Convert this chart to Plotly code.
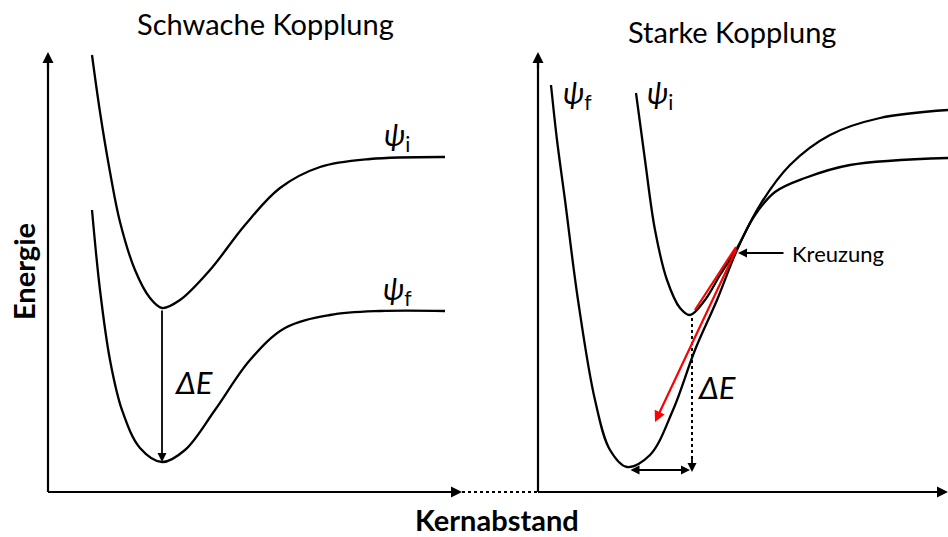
import plotly.graph_objects as go

# Schematic potential curves (x = Kernabstand, y = Energie in drawing units, y grows downward)
left_psi_i_x = [92, 100, 110, 120, 135, 150, 162, 180, 210, 245, 280, 320, 370, 445]
left_psi_i_y = [55, 112, 172, 222, 270, 298, 308, 300, 270, 225, 188, 167, 159, 157]
left_psi_f_x = [92, 100, 110, 122, 140, 162, 185, 215, 250, 285, 330, 380, 445]
left_psi_f_y = [210, 290, 360, 410, 448, 462, 450, 410, 360, 328, 315, 311, 311]

right_psi_f_x = [551, 557, 565, 578, 595, 610, 627, 650, 673, 695, 717, 737, 760, 790, 830, 880, 948]
right_psi_f_y = [85, 140, 200, 300, 400, 450, 467, 455, 410, 350, 300, 250, 205, 165, 135, 118, 110]
right_psi_i_x = [636, 645, 655, 667, 680, 690, 705, 720, 737, 755, 775, 805, 850, 948]
right_psi_i_y = [93, 160, 230, 280, 308, 315, 300, 275, 248, 215, 192, 178, 165, 158]

titles = ["Schwache Kopplung", "Starke Kopplung"]
axis_titles = ["Energie", "Kernabstand"]

FONT = "Lato"
fig = go.Figure()

def curve(x, y, color="black", width=2.3, dash=None, shape="spline"):
    fig.add_trace(go.Scatter(x=x, y=y, mode="lines",
                             line=dict(color=color, width=width, dash=dash, shape=shape, smoothing=1.0),
                             hoverinfo="skip", showlegend=False))

curve(left_psi_i_x, left_psi_i_y)
curve(left_psi_f_x, left_psi_f_y)
curve(right_psi_f_x, right_psi_f_y)
curve(right_psi_i_x, right_psi_i_y)

# axes
curve([48, 48], [492, 60], width=2.2, shape="linear")
curve([48, 455], [492, 492], width=2.2, shape="linear")
curve([462, 538], [492, 492], width=2.2, dash="dot", shape="linear")
curve([538, 538], [492, 60], width=2.2, shape="linear")
curve([538, 942], [492, 492], width=2.2, shape="linear")

# dotted vertical in right panel
curve([692, 692], [318, 462], width=2, dash="dot", shape="linear")
# red line
curve([695, 736], [310, 247], color="red", width=2.2, shape="linear")

def arrow(x, y, ax, ay, color="black", width=2, side="end", size=1.0):
    fig.add_annotation(x=x, y=y, ax=ax, ay=ay, xref="x", yref="y", axref="x", ayref="y",
                       text="", showarrow=True, arrowhead=2, arrowsize=size, arrowwidth=width,
                       arrowcolor=color, arrowside=side, standoff=0, startstandoff=0)

arrow(48, 52, 48, 70, width=2.2)
arrow(462, 492, 445, 492, width=2.2)
arrow(538, 52, 538, 70, width=2.2)
arrow(948, 492, 930, 492, width=2.2)
arrow(162, 462, 162, 309, width=1.8)
arrow(692, 472, 692, 455, width=1.8)
arrow(690, 470, 629, 470, width=1.8, side="end+start")
arrow(738, 253, 785, 253, width=1.8)
arrow(655, 422, 737, 248, color="red", width=2.2)

def text(x, y, s, size, bold=False, italic=False, anchor="center", angle=0):
    if italic:
        s = "<i>" + s + "</i>"
    if bold:
        s = "<b>" + s + "</b>"
    fig.add_annotation(x=x, y=y, xref="x", yref="y", text=s, showarrow=False,
                       font=dict(family=FONT, size=size, color="black"),
                       xanchor=anchor, yanchor="middle", textangle=angle)

text(265, 23, titles[0], 29)
text(732, 31, titles[1], 29)
text(23, 272, axis_titles[0], 29, bold=True, angle=-90)
text(497, 519, axis_titles[1], 29, bold=True)
text(193, 382, "ΔE", 31, italic=True)
text(716, 387, "ΔE", 31, italic=True)
text(790, 253, "Kreuzung", 22, anchor="left")
text(397, 136, "<i>ψ</i><sub>i</sub>", 30)
text(397, 290, "<i>ψ</i><sub>f</sub>", 30)
text(577, 94, "<i>ψ</i><sub>f</sub>", 30)
text(660, 94, "<i>ψ</i><sub>i</sub>", 30)

fig.update_layout(width=948, height=537, margin=dict(l=0, r=0, t=0, b=0),
                  paper_bgcolor="white", plot_bgcolor="white",
                  xaxis=dict(range=[0, 948], visible=False, fixedrange=True),
                  yaxis=dict(range=[537, 0], visible=False, fixedrange=True),
                  showlegend=False)
fig.write_html("out.html", config={"displayModeBar": False},
               post_script="document.body.style.margin='0';")
